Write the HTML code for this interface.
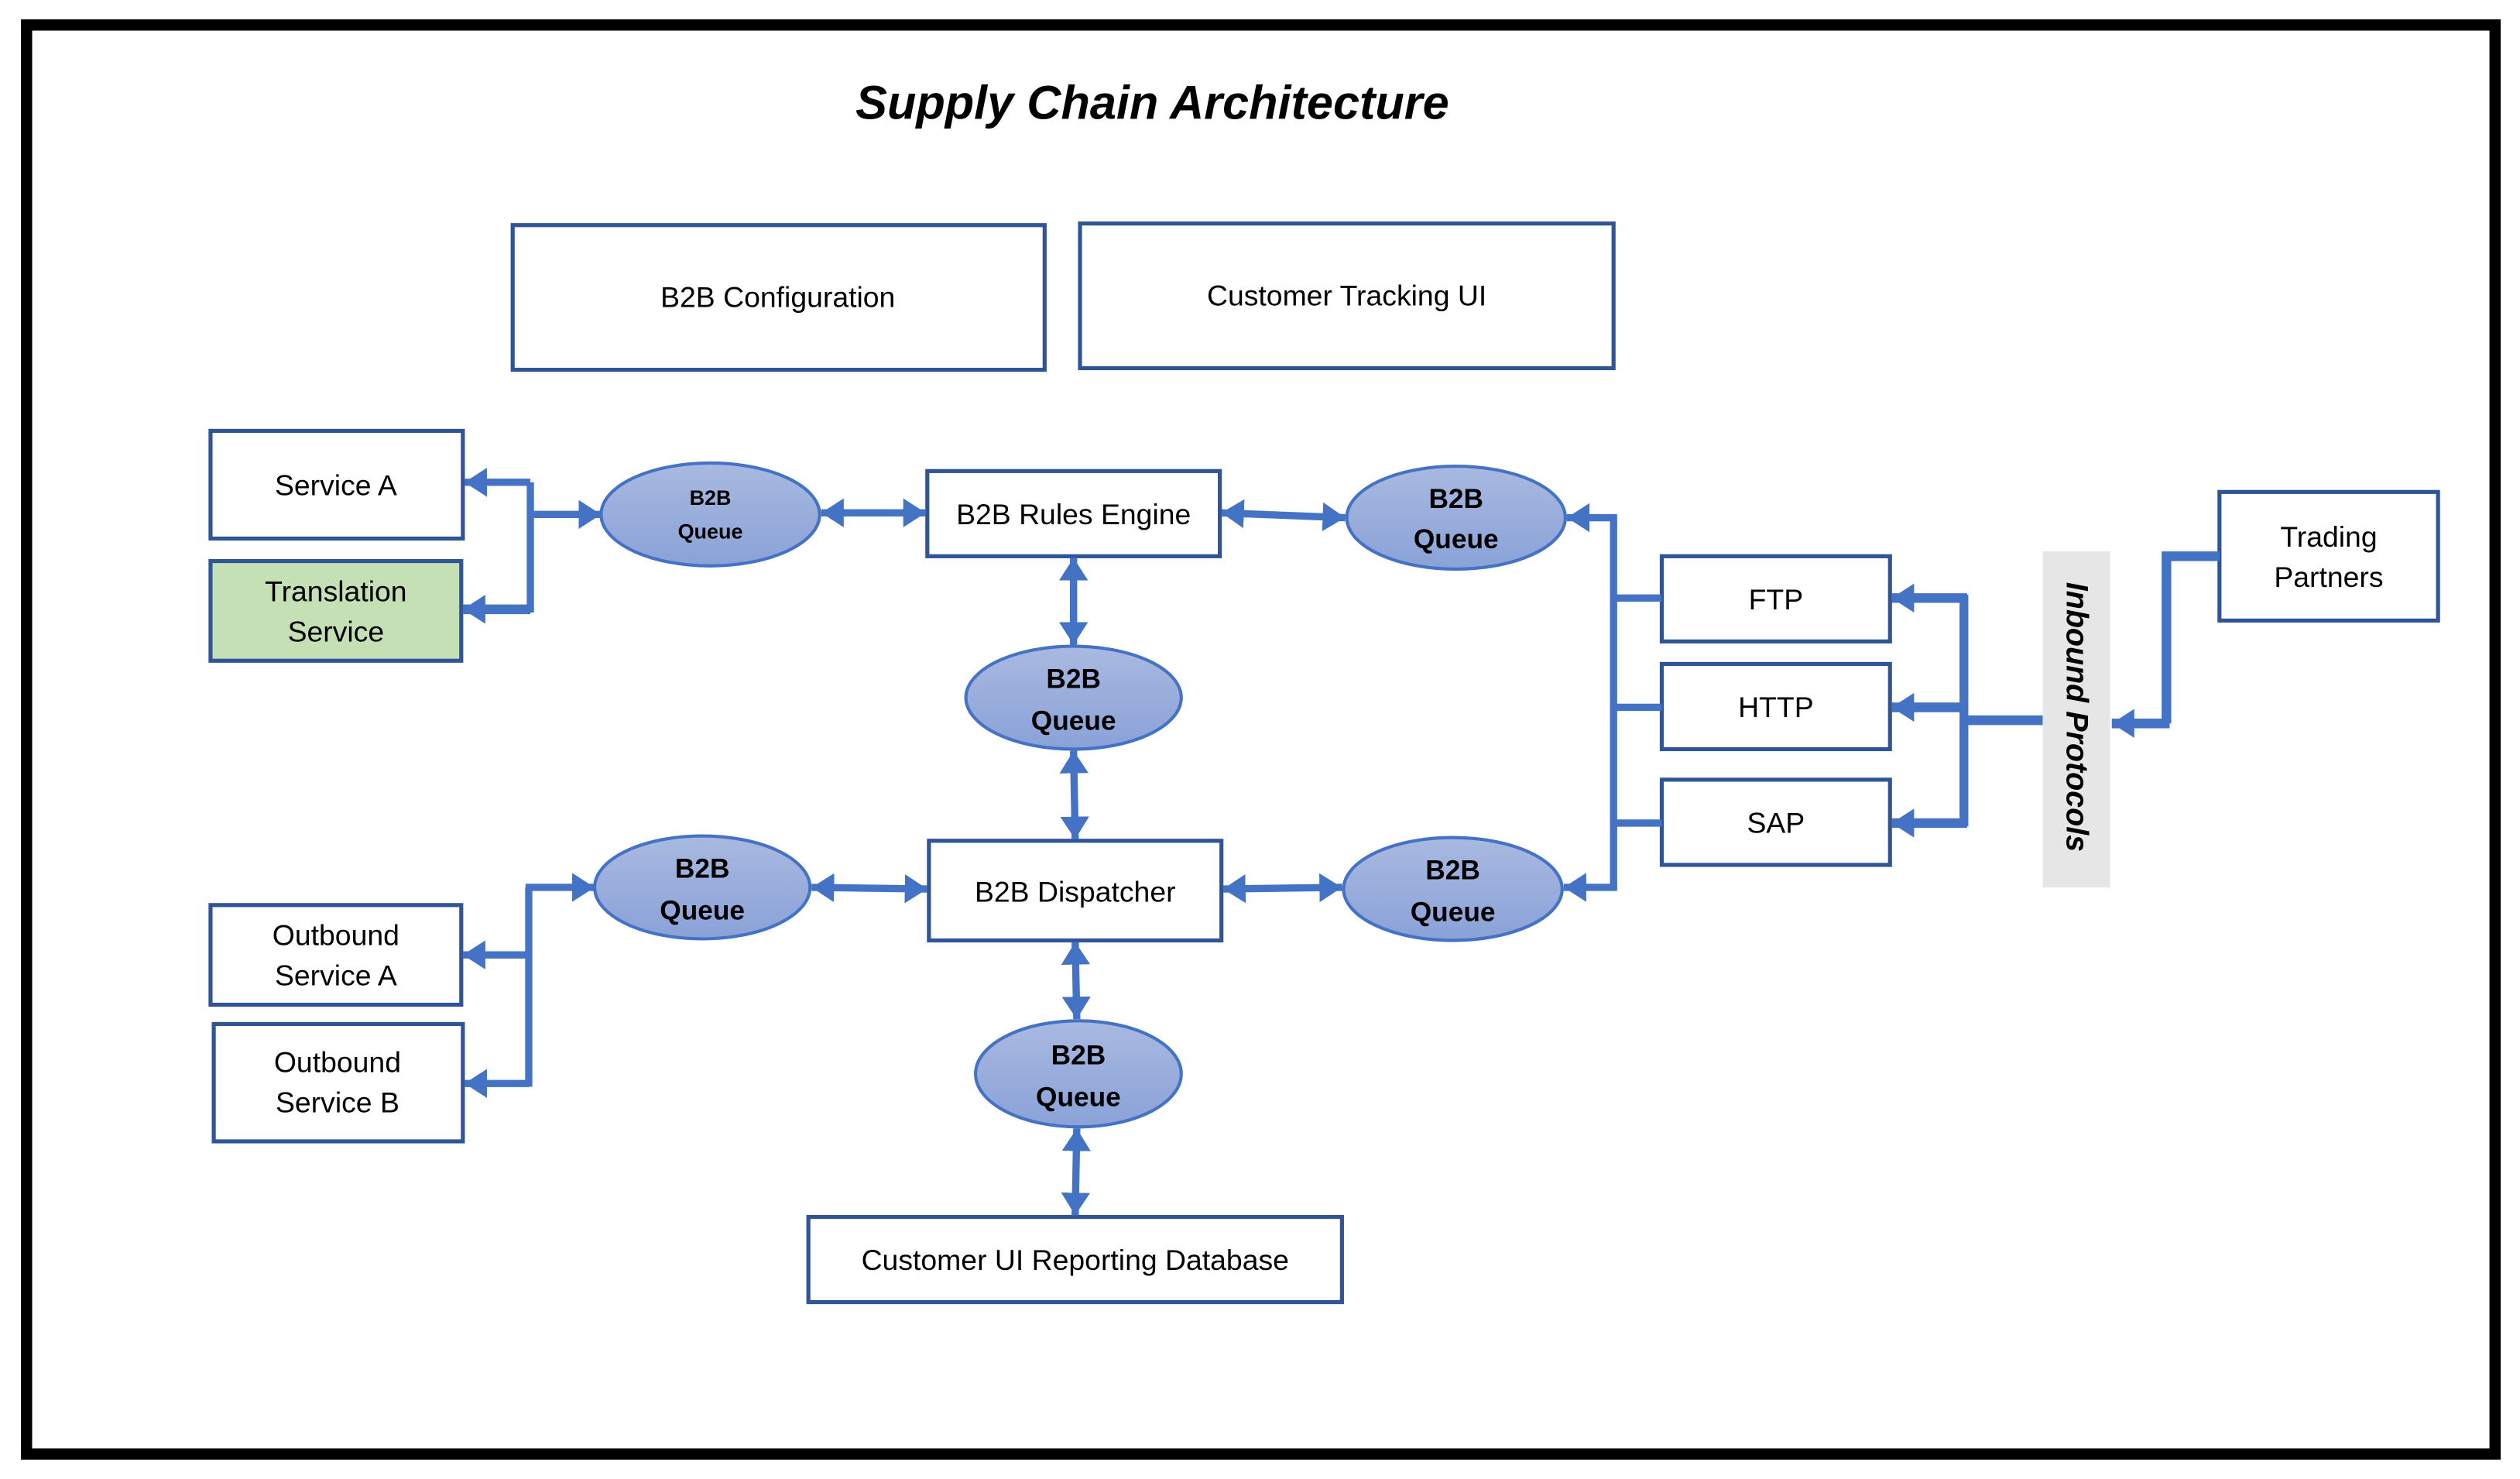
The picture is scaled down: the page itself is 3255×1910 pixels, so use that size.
<!DOCTYPE html>
<html><head><meta charset="utf-8"><style>
html,body{margin:0;padding:0;background:#fff;width:3255px;height:1910px;overflow:hidden}
svg{display:block}
text{font-family:"Liberation Sans",sans-serif;fill:#000}
</style></head><body>
<svg width="3255" height="1910" viewBox="0 0 1568 920" xmlns="http://www.w3.org/2000/svg">
<defs>
<marker id="a" markerUnits="userSpaceOnUse" markerWidth="16" markerHeight="18" refX="14" refY="9" orient="auto-start-reverse"><path d="M0,0 L14,9 L0,18 Z" fill="#4472c4"/></marker>
<linearGradient id="g" x1="0" y1="0" x2="0" y2="1"><stop offset="0" stop-color="#a9b9e0"/><stop offset="1" stop-color="#8aa2d8"/></linearGradient>
</defs>
<rect x="16.5" y="15.5" width="1536" height="889" fill="#fff" stroke="#000" stroke-width="7"/>
<text x="717" y="74" font-size="29.5" font-weight="bold" font-style="italic" text-anchor="middle">Supply Chain Architecture</text>

<g fill="#fff" stroke="#2f5597" stroke-width="2.5">
<rect x="319" y="140" width="331" height="90"/>
<rect x="672" y="139" width="332" height="90"/>
<rect x="131" y="268" width="157" height="67"/>
<rect x="131" y="349" width="156" height="62" fill="#c5e0b4"/>
<rect x="577" y="293" width="182" height="53"/>
<rect x="578" y="523" width="182" height="62"/>
<rect x="503" y="757" width="332" height="53"/>
<rect x="131" y="563" width="156" height="62"/>
<rect x="133" y="637" width="155" height="73"/>
<rect x="1034" y="346" width="142" height="53"/>
<rect x="1034" y="413" width="142" height="53"/>
<rect x="1034" y="485" width="142" height="53"/>
<rect x="1381" y="306" width="136" height="80"/>
</g>
<rect x="1271" y="343" width="42" height="209" fill="#e6e6e6"/>

<g fill="url(#g)" stroke="#4472c4" stroke-width="2">
<ellipse cx="442" cy="320" rx="68" ry="32"/>
<ellipse cx="906" cy="322" rx="68" ry="32"/>
<ellipse cx="668" cy="434" rx="67" ry="32"/>
<ellipse cx="437" cy="552" rx="67" ry="32"/>
<ellipse cx="904" cy="553" rx="68" ry="32"/>
<ellipse cx="671" cy="668" rx="64" ry="33"/>
</g>

<g stroke="#4472c4" stroke-width="4.5" fill="none">
<path d="M374,320 H330 M330,300 V381" />
<line x1="330" y1="300" x2="289" y2="300" marker-end="url(#a)"/>
<line x1="330" y1="379" x2="288" y2="379" stroke-width="6" marker-end="url(#a)"/>
<line x1="330" y1="320" x2="374" y2="320" marker-end="url(#a)"/>
<line x1="511" y1="319" x2="576" y2="319" marker-start="url(#a)" marker-end="url(#a)"/>
<line x1="760" y1="319" x2="837" y2="322" marker-start="url(#a)" marker-end="url(#a)"/>
<line x1="668" y1="347" x2="668" y2="401" marker-start="url(#a)" marker-end="url(#a)"/>
<line x1="668" y1="467" x2="669" y2="522" marker-start="url(#a)" marker-end="url(#a)"/>
<line x1="505" y1="552" x2="577" y2="553" marker-start="url(#a)" marker-end="url(#a)"/>
<line x1="761" y1="553" x2="835" y2="552" marker-start="url(#a)" marker-end="url(#a)"/>
<line x1="669" y1="586" x2="670" y2="634" marker-start="url(#a)" marker-end="url(#a)"/>
<line x1="670" y1="702" x2="669" y2="756" marker-start="url(#a)" marker-end="url(#a)"/>
<path d="M329,552 V676"/>
<line x1="327" y1="552" x2="370" y2="552" marker-end="url(#a)"/>
<line x1="329" y1="594" x2="288" y2="594" marker-end="url(#a)"/>
<line x1="329" y1="674" x2="289" y2="674" marker-end="url(#a)"/>
<path d="M1004,320 V554 M1004,372 H1034 M1004,440 H1034 M1004,512 H1034"/>
<line x1="1006" y1="322" x2="975" y2="322" marker-end="url(#a)"/>
<line x1="1006" y1="552" x2="973" y2="552" marker-end="url(#a)"/>
<path d="M1222,370 V514" stroke-width="5.5"/>
<line x1="1224" y1="372" x2="1177" y2="372" stroke-width="6" marker-end="url(#a)"/>
<line x1="1224" y1="440" x2="1177" y2="440" stroke-width="6" marker-end="url(#a)"/>
<line x1="1224" y1="512" x2="1177" y2="512" stroke-width="6" marker-end="url(#a)"/>
<line x1="1222" y1="448" x2="1271" y2="448" stroke-width="6"/>
<path d="M1381,346 H1348 V450" stroke-width="6"/>
<line x1="1350" y1="450" x2="1314" y2="450" stroke-width="6" marker-end="url(#a)"/>
</g>

<g font-size="18" text-anchor="middle">
<text x="484" y="191">B2B Configuration</text>
<text x="838" y="190">Customer Tracking UI</text>
<text x="209" y="308">Service A</text>
<text x="209" y="374">Translation</text>
<text x="209" y="399">Service</text>
<text x="668" y="326">B2B Rules Engine</text>
<text x="669" y="561">B2B Dispatcher</text>
<text x="669" y="790">Customer UI Reporting Database</text>
<text x="209" y="588">Outbound</text>
<text x="209" y="613">Service A</text>
<text x="210" y="667">Outbound</text>
<text x="210" y="692">Service B</text>
<text x="1105" y="379">FTP</text>
<text x="1105" y="446">HTTP</text>
<text x="1105" y="518">SAP</text>
<text x="1449" y="340">Trading</text>
<text x="1449" y="365">Partners</text>
</g>
<g font-weight="bold" text-anchor="middle">
<text x="442" y="314" font-size="13">B2B</text>
<text x="442" y="335" font-size="13">Queue</text>
<g font-size="17">
<text x="906" y="316">B2B</text><text x="906" y="341">Queue</text>
<text x="668" y="428">B2B</text><text x="668" y="454">Queue</text>
<text x="437" y="546">B2B</text><text x="437" y="572">Queue</text>
<text x="904" y="547">B2B</text><text x="904" y="573">Queue</text>
<text x="671" y="662">B2B</text><text x="671" y="688">Queue</text>
</g>
</g>
<text x="0" y="0" font-size="19" font-weight="bold" font-style="italic" text-anchor="middle" transform="translate(1286,446) rotate(90)">Inbound Protocols</text>
</svg>
</body></html>
